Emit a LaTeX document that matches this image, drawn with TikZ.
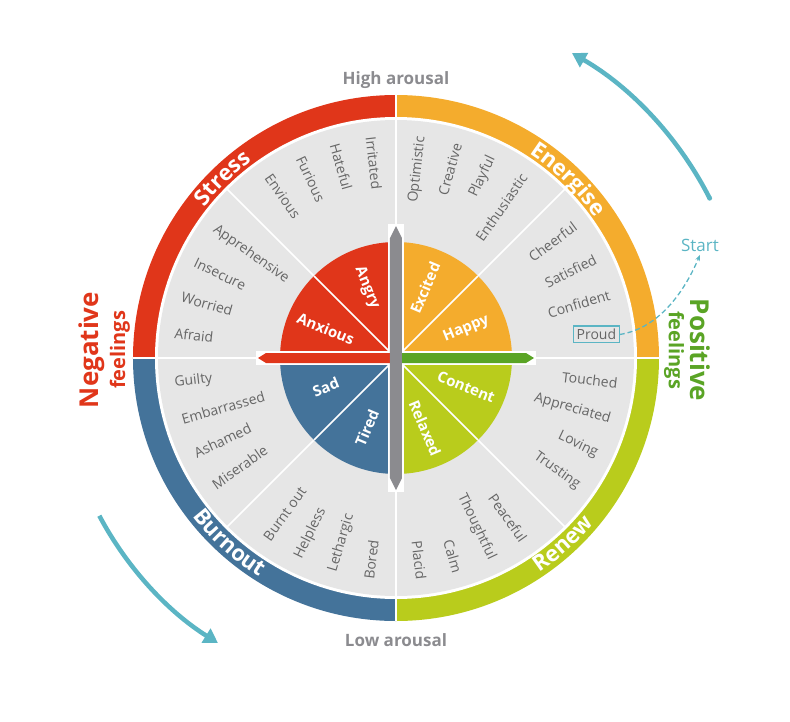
\documentclass[tikz,border=0pt]{standalone}
\usepackage{fontspec}
\setmainfont{Open Sans}
\usetikzlibrary{decorations.text,arrows.meta}
\definecolor{stressred}{HTML}{E0361A}
\definecolor{energyorange}{HTML}{F4AC2D}
\definecolor{renewlime}{HTML}{B9CC1C}
\definecolor{burnblue}{HTML}{44739A}
\definecolor{discgray}{HTML}{E6E6E6}
\definecolor{wordgray}{HTML}{666666}
\definecolor{bargray}{HTML}{8B8B8F}
\definecolor{posgreen}{HTML}{5AA425}
\definecolor{startteal}{HTML}{5BB5C4}
\begin{document}
\begin{tikzpicture}[x=1pt, y=1pt,
    word/.style={text=wordgray, font=\fontsize{14}{14}\selectfont, inner sep=1pt},
    core/.style={text=white, font=\fontsize{15}{15}\selectfont\bfseries, inner sep=0pt},
    ringtext/.style={decorate, decoration={text along path, text align=center,
        text={|\fontsize{22}{22}\selectfont\bfseries\color{white}|#1}}},
    sep/.style={white, line width=1.5pt},
    bigarrow/.style={startteal, line width=4.5pt, -{Triangle[length=14pt,width=16pt]}}]
\useasboundingbox (-396,-363) rectangle (394,358);
% outer ring
\fill[stressred] (0,0) -- (90:263) arc[start angle=90, end angle=180, radius=263] -- cycle;
\fill[energyorange] (0,0) -- (0:263) arc[start angle=0, end angle=90, radius=263] -- cycle;
\fill[renewlime] (0,0) -- (-90:263) arc[start angle=-90, end angle=0, radius=263] -- cycle;
\fill[burnblue] (0,0) -- (180:263) arc[start angle=180, end angle=270, radius=263] -- cycle;
\fill[white] (0,0) circle[radius=241];
\fill[discgray] (0,0) circle[radius=238];
\foreach \a in {0,90,180,270} \draw[sep] (0,0) -- (\a:263);
\foreach \a in {45,135,225,315} \draw[sep] (0,0) -- (\a:239);
% ring labels
\path[ringtext=Stress] (160:244) arc[start angle=160, end angle=108, radius=244];
\path[ringtext=Energise] (75:244) arc[start angle=75, end angle=17, radius=244];
\path[ringtext=Burnout] (198:258) arc[start angle=198, end angle=258, radius=258];
\path[ringtext=Renew] (-76:258) arc[start angle=-76, end angle=-20, radius=258];
% core wedges
\fill[stressred] (0,0) -- (90:116) arc[start angle=90, end angle=180, radius=116] -- cycle;
\fill[energyorange] (0,0) -- (0:116) arc[start angle=0, end angle=90, radius=116] -- cycle;
\fill[renewlime] (0,0) -- (-90:116) arc[start angle=-90, end angle=0, radius=116] -- cycle;
\fill[burnblue] (0,0) -- (180:116) arc[start angle=180, end angle=270, radius=116] -- cycle;
\foreach \a in {45,135,225,315} \draw[sep] (0,0) -- (\a:116);
\node[core, rotate=-68] (angry) at (112.5:76) {Angry};
\node[core, rotate=-22] (anxious) at (157.5:76) {Anxious};
\node[core, rotate=67] (excited) at (67.5:76) {Excited};
\node[core, rotate=22] (happy) at (22.5:76) {Happy};
\node[core, rotate=-22] (content) at (-22.5:76) {Content};
\node[core, rotate=-67] (relaxed) at (-67.5:76) {Relaxed};
\node[core, rotate=67] (tired) at (247.5:76) {Tired};
\node[core, rotate=22] (sad) at (202.5:76) {Sad};
% axis bars
\fill[white] (-140,-7) rectangle (140,7);
\fill[white] (-8,-134) rectangle (8,134);
\fill[stressred] (-138,0) -- (-130,5) -- (0,5) -- (0,-5) -- (-130,-5) -- cycle;
\fill[posgreen] (138,0) -- (130,5) -- (0,5) -- (0,-5) -- (130,-5) -- cycle;
\fill[bargray] (0,132) -- (6,120) -- (6,-120) -- (0,-132) -- (-6,-120) -- (-6,120) -- cycle;
% feeling words
\foreach \a/\w in {96.5/Irritated, 106/Hateful, 115.5/Furious, 125/Envious,
    144.5/Apprehensive, 154.5/Insecure, 164/Worried, 173.5/Afraid,
    186.5/Guilty, 196/Embarrassed, 205.5/Ashamed, 215/Miserable,
    234.5/Burnt out, 244/Helpless, 253.5/Lethargic, 263/Bored}
  \node[word, rotate=\a-180, anchor=west] at (\a:224) {\w};
\foreach \a/\w in {83.5/Optimistic, 74/Creative, 64.5/Playful, 55/Enthusiastic,
    36.5/Cheerful, 26.5/Satisfied, 16.5/Confident,
    -6.5/Touched, -16/Appreciated, -25.5/Loving, -35/Trusting,
    -55/Peaceful, -64.5/Thoughtful, -74/Calm, -83.5/Placid}
  \node[word, rotate=\a, anchor=east] at (\a:224) {\w};
\node[word, draw=startteal, line width=1.2pt, inner sep=3pt, anchor=east] (proud) at (6:225) {Proud};
% titles
\node[text=bargray, font=\fontsize{17}{17}\selectfont\bfseries] (high) at (0,278) {High arousal};
\node[text=bargray, font=\fontsize{17}{17}\selectfont\bfseries] (low) at (0,-282) {Low arousal};
\node[text=stressred, rotate=90, font=\fontsize{26}{26}\selectfont\bfseries] (neg) at (-304,8) {Negative};
\node[text=stressred, rotate=90, font=\fontsize{20}{20}\selectfont\bfseries] (negf) at (-276,8) {feelings};
\node[text=posgreen, rotate=-90, font=\fontsize{26}{26}\selectfont\bfseries] (pos) at (304,8) {Positive};
\node[text=posgreen, rotate=-90, font=\fontsize{20}{20}\selectfont\bfseries] (posf) at (278,8) {feelings};
\node[text=startteal, font=\fontsize{17}{17}\selectfont] (start) at (304,113) {Start};
% start arrows
\coordinate (arrowA) at (27:352);
\coordinate (arrowB) at (208:336);
\draw[startteal, line width=1.3pt, dash pattern=on 5pt off 3pt, -{Stealth[length=6pt]}] (proud.east) .. controls (265,30) and (290,70) .. (start.south);
\fill[startteal] (arrowA) circle[radius=2.5];
\draw[bigarrow] (arrowA) arc[start angle=27, end angle=60, radius=352];
\draw[bigarrow] (arrowB) arc[start angle=208, end angle=238, radius=336];
\end{tikzpicture}
\end{document}
